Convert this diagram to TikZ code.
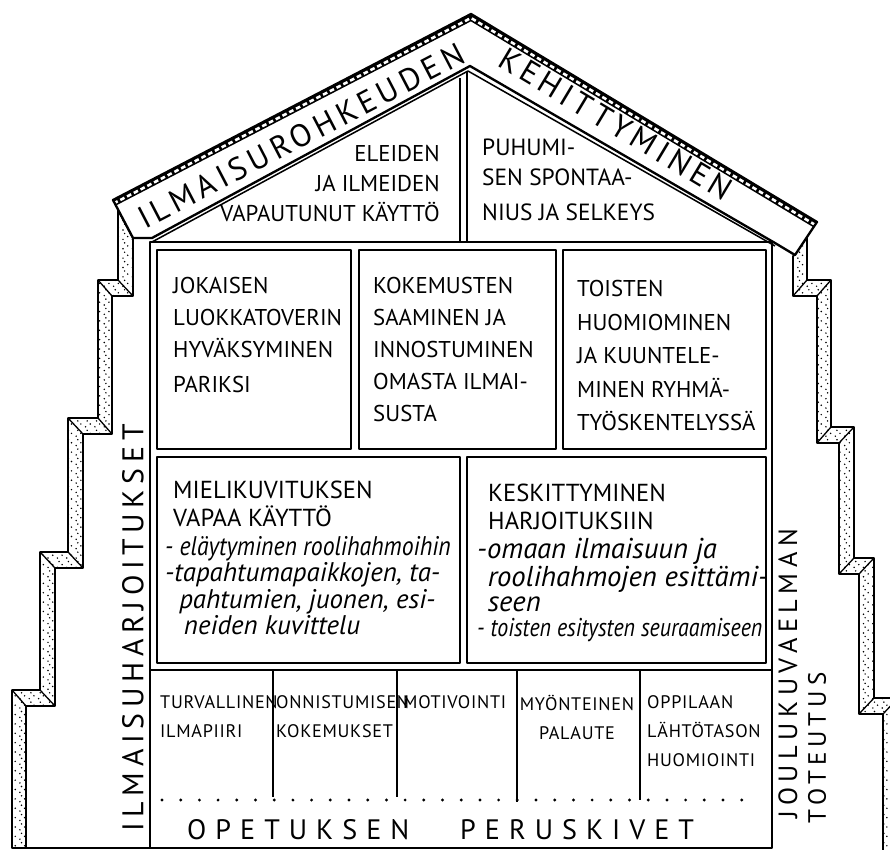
\documentclass[tikz,border=0pt]{standalone}
\usepackage{fontspec}
\usepackage{graphicx}
\newfontfamily\hand{PT Sans}
\usetikzlibrary{patterns}

% sparse stippling for the stair ribbons
\pgfdeclarepatternformonly{stipple}{\pgfqpoint{-1pt}{-1pt}}{\pgfqpoint{9pt}{9pt}}{\pgfqpoint{8pt}{8pt}}{%
  \pgfpathcircle{\pgfqpoint{1pt}{1.2pt}}{0.7pt}%
  \pgfpathcircle{\pgfqpoint{5pt}{3.6pt}}{0.7pt}%
  \pgfpathcircle{\pgfqpoint{2.4pt}{6.2pt}}{0.7pt}%
  \pgfusepath{fill}}

\tikzset{
  wall/.style={line width=2pt, line join=round},
  pane/.style={line width=1.3pt, line join=round},
  ribbon/.style={line width=1.5pt, line join=round, pattern=stipple},
  fold/.style={line width=1.1pt},
  txt/.style={inner sep=0pt, align=left, anchor=north west},
  rooftext/.style={inner sep=0pt, font={\hand\fontsize{27}{30}\selectfont\addfontfeature{LetterSpace=15}}},
  gabletext/.style={txt, font={\hand\fontsize{19.5}{25.6}\selectfont}},
  boxcaps/.style={txt, font={\hand\fontsize{19.5}{27.3}\selectfont}},
  midcaps/.style={txt, font={\hand\fontsize{21}{23.9}\selectfont}},
  listtext/.style={txt, font={\hand\itshape\fontsize{23}{22.5}\selectfont}},
  basetext/.style={txt, font={\hand\fontsize{15.5}{24.7}\selectfont\addfontfeature{LetterSpace=4}}},
  groundtext/.style={inner sep=0pt, anchor=west, font={\hand\fontsize{24}{26}\selectfont\addfontfeature{LetterSpace=32}}},
  sidetext/.style={inner sep=0pt, rotate=90, font={\hand\fontsize{25.5}{28}\selectfont\addfontfeature{LetterSpace=19}}},
}

\begin{document}
\begin{tikzpicture}[x=0.03cm, y=-0.03cm]
\useasboundingbox (0,0) rectangle (890,850);
\fill[white] (0,0) rectangle (890,850);

% ---------- stairs on both sides ----------
\begin{scope}
  \clip (0,0) rectangle (890,850);
  % left flight
  \draw[ribbon] (118,210) -- (133,238) -- (133,296) -- (112,296) -- (112,434) -- (83,434)
    -- (83,568) -- (55,568) -- (55,706) -- (26,706) -- (26,848) -- (12,848) -- (12,690)
    -- (40,690) -- (40,552) -- (68,552) -- (68,418) -- (98,418) -- (98,280) -- (118,280) -- cycle;
  \draw[fold] (98,280) -- (112,296) (118,280) -- (133,296)
              (68,418) -- (83,434) (98,418) -- (112,434)
              (40,552) -- (55,568) (68,552) -- (83,568)
              (12,690) -- (26,706) (40,690) -- (55,706);
  % right flight
  \draw[ribbon] (807,237) -- (807,280) -- (831,280) -- (831,427) -- (854,427) -- (854,558)
    -- (874,558) -- (874,698) -- (898,698) -- (898,855) -- (883,855) -- (883,714) -- (859,714)
    -- (859,574) -- (839,574) -- (839,443) -- (817,443) -- (817,296) -- (793,296) -- (793,256)
    -- (795,255) -- cycle;
  \draw[fold] (807,280) -- (793,296) (831,280) -- (817,296)
              (831,427) -- (817,443) (854,427) -- (839,443)
              (854,558) -- (839,574) (874,558) -- (859,574)
              (874,698) -- (859,714) (898,698) -- (883,714);
\end{scope}

% ---------- roof band ----------
\fill[white] (133,238) -- (113,200) -- (471,14) -- (817,222) -- (795,255) -- (775,243)
  -- (470,66) -- (152,238) -- cycle;
\begin{scope}
  \clip (133,238) -- (113,200) -- (471,14) -- (817,222) -- (795,255) -- (775,243)
    -- (470,66) -- (152,238) -- cycle;
  \draw[line width=5pt, line join=miter] (100,210.5) -- (471,18) -- (830,233.8);
  \draw[white, line width=2.2pt, dash pattern=on 4pt off 2.5pt] (100,210.5) -- (471,18) -- (830,233.8);
\end{scope}
\draw[wall] (133,238) -- (113,200) -- (471,14) -- (817,222) -- (795,255) -- (775,243)
  -- (470,66) -- (152,238) -- cycle;

% ---------- gable ----------
\draw[pane] (152,242) -- (468,71) -- (775,246);
\draw[pane] (460,78) -- (460,243) (467,72) -- (467,243);

% ---------- house body ----------
\draw[wall] (150,242) rectangle (772,848);
\draw[wall] (12,848) -- (150,848);
\draw[pane] (157,250) rectangle (351,449);
\draw[pane] (359,250) rectangle (556,449);
\draw[pane] (563,250) rectangle (766,449);
\draw[pane] (157,457) rectangle (460,663);
\draw[pane] (467,457) rectangle (766,663);
\draw[wall] (150,670) -- (772,670);
\draw[pane] (273,670) -- (273,797) (397,670) -- (397,797) (517,670) -- (517,802) (640,670) -- (640,800);
\foreach \i in {0,...,31} \fill (162+18.7*\i,800) circle (1.6);

% ---------- roof and gable texts ----------
\node[rooftext, rotate=27.5] (roofL) at (301,136) {ILMAISUROHKEUDEN};
\node[rooftext, rotate=-31] (roofR) at (616,124) {KEHITTYMINEN};
\node[gabletext, anchor=north east, align=right] (gableL) at (440,145) {ELEIDEN\\JA ILMEIDEN\\VAPAUTUNUT KÄYTTÖ};
\node[gabletext, font={\hand\fontsize{20}{25}\selectfont}] (gableR) at (482,139) {PUHUMI-\\SEN SPONTAA-\\[5pt]NIUS JA SELKEYS};

% ---------- upper windows ----------
\node[boxcaps] (w1) at (173,277) {JOKAISEN\\LUOKKATOVERIN\\HYVÄKSYMINEN\\[3pt]PARIKSI};
\node[boxcaps] (w2) at (373,277) {KOKEMUSTEN\\SAAMINEN JA\\INNOSTUMINEN\\OMASTA ILMAI-\\SUSTA};
\node[boxcaps, font={\hand\fontsize{19.5}{28.6}\selectfont}] (w3) at (577,280) {TOISTEN\\HUOMIOMINEN\\JA KUUNTELE-\\MINEN RYHMÄ-\\TYÖSKENTELYSSÄ};

% ---------- middle windows ----------
\node[midcaps] (m1) at (173,481) {MIELIKUVITUKSEN\\VAPAA KÄYTTÖ};
\node[listtext] (m1list) at (165,536) {\scalebox{0.88}[1]{- eläytyminen roolihahmoihin}\\-tapahtumapaikkojen, ta-\\\hspace*{12pt}pahtumien, juonen, esi-\\\hspace*{16pt}neiden kuvittelu};
\node[midcaps] (m2) at (488,484) {KESKITTYMINEN\\HARJOITUKSIIN};
\node[listtext, font={\hand\itshape\fontsize{24.5}{21.6}\selectfont}] (m2list) at (477,538) {-omaan ilmaisuun ja\\\hspace*{9pt}roolihahmojen esittämi-\\\hspace*{9pt}seen\\{\fontsize{22}{21.6}\selectfont\scalebox{0.85}[1]{- toisten esitysten seuraamiseen}}};

% ---------- foundation stones ----------
\node[basetext] (s1) at (160,695) {TURVALLINEN\\ILMAPIIRI};
\node[basetext] (s2) at (276,695) {ONNISTUMISEN\\KOKEMUKSET};
\node[basetext] (s3) at (403,695) {MOTIVOINTI};
\node[basetext, anchor=north, align=center] (s4) at (577,695) {MYÖNTEINEN\\PALAUTE};
\node[basetext] (s5) at (647,695) {OPPILAAN\\LÄHTÖTASON\\HUOMIOINTI};
\node[groundtext] (g1) at (187,830) {OPETUKSEN};
\node[groundtext] (g2) at (460,830) {PERUSKIVET};

% ---------- side labels ----------
\node[sidetext] (sideL) at (133,628) {ILMAISUHARJOITUKSET};
\node[sidetext, font={\hand\fontsize{22.5}{26}\selectfont\addfontfeature{LetterSpace=21}}] (sideR1) at (788,674) {JOULUKUVAELMAN};
\node[sidetext, font={\hand\fontsize{21.4}{24}\selectfont\addfontfeature{LetterSpace=20}}] (sideR2) at (817,748) {TOTEUTUS};
\end{tikzpicture}
\end{document}
